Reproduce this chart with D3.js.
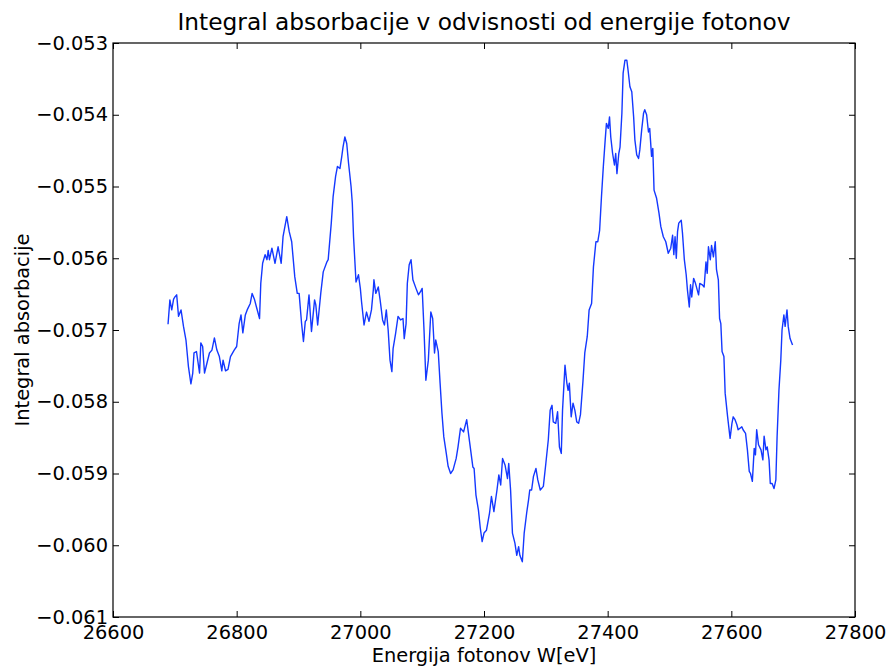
<!DOCTYPE html>
<html>
<head>
<meta charset="utf-8">
<script src="https://cdn.jsdelivr.net/npm/d3@7"></script>
<style>
  body { margin: 0; background: #fff; }
  text { font-family: "DejaVu Sans", sans-serif; fill: #000; }
</style>
</head>
<body>
<div class="chart"></div>
<script>
// --- Data ---
const energy = [
  26689, 26692, 26695, 26698, 26700, 26703, 26706, 26710, 26714, 26718,
  26722, 26726, 26729, 26731, 26735, 26740, 26742, 26745, 26748, 26752,
  26756, 26760, 26764, 26768, 26772, 26776, 26778, 26782, 26786, 26790,
  26796, 26800, 26804, 26807, 26810, 26814, 26817, 26822, 26825, 26829,
  26832, 26837, 26839, 26842, 26846, 26849, 26851, 26853, 26857, 26862,
  26867, 26872, 26875, 26881, 26885, 26889, 26894, 26898, 26901, 26905,
  26908, 26911, 26913, 26917, 26921, 26926, 26928, 26931, 26936, 26940,
  26946, 26948, 26953, 26956, 26960, 26963, 26967, 26970, 26972, 26975,
  26978, 26981, 26985, 26987, 26989, 26993, 26997, 27000, 27002, 27006,
  27010, 27014, 27018, 27021, 27022, 27025, 27029, 27032, 27036, 27039,
  27042, 27045, 27048, 27051, 27053, 27057, 27061, 27065, 27069, 27071,
  27074, 27076, 27079, 27082, 27085, 27090, 27094, 27097, 27100, 27103,
  27106, 27110, 27114, 27117, 27120, 27122, 27126, 27129, 27132, 27135,
  27139, 27142, 27146, 27150, 27155, 27158, 27162, 27167, 27172, 27177,
  27182, 27184, 27187, 27191, 27194, 27197, 27200, 27204, 27209, 27212,
  27216, 27221, 27224, 27227, 27230, 27234, 27238, 27240, 27243, 27246,
  27250, 27253, 27256, 27258, 27262, 27265, 27269, 27272, 27274, 27277,
  27280, 27284, 27287, 27291, 27296, 27300, 27304, 27307, 27310, 27312,
  27316, 27319, 27322, 27325, 27327, 27331, 27334, 27336, 27338, 27341,
  27344, 27347, 27350, 27353, 27356, 27360, 27363, 27367, 27370, 27374,
  27377, 27381, 27384, 27387, 27390, 27393, 27396, 27398, 27401, 27403,
  27405, 27408, 27411, 27413, 27415, 27418, 27420, 27423, 27425, 27428,
  27431, 27433, 27436, 27439, 27442, 27444, 27447, 27450, 27452, 27455,
  27458, 27460, 27463, 27466, 27468, 27471, 27473, 27475, 27479, 27483,
  27486, 27490, 27494, 27498, 27502, 27505, 27507, 27509, 27511, 27513,
  27515, 27519, 27521, 27524, 27527, 27529, 27532, 27534, 27536, 27539,
  27542, 27547, 27549, 27553, 27556, 27559, 27561, 27563, 27566, 27568,
  27571, 27574, 27576, 27579, 27581, 27583, 27585, 27588, 27590, 27594,
  27598, 27601, 27603, 27606, 27609, 27611, 27614, 27617, 27619, 27623,
  27626, 27629, 27631, 27634, 27637, 27639, 27641, 27644, 27648, 27651,
  27653, 27656, 27658, 27661, 27663, 27666, 27669, 27672, 27674, 27677,
  27680, 27682, 27685, 27687, 27690, 27692, 27695, 27699
];
const absorb = [
  -0.05692, -0.05658, -0.05672, -0.05657, -0.05654, -0.05651, -0.05681, -0.05672, -0.05695, -0.05714,
  -0.05751, -0.05775, -0.05760, -0.05732, -0.05730, -0.05760, -0.05718, -0.05723, -0.05760, -0.05746,
  -0.05732, -0.05728, -0.05711, -0.05728, -0.05737, -0.05757, -0.05742, -0.05757, -0.05755, -0.05737,
  -0.05728, -0.05723, -0.05691, -0.05679, -0.05704, -0.05679, -0.05672, -0.05663, -0.05649, -0.05658,
  -0.05668, -0.05684, -0.05635, -0.05607, -0.05595, -0.05602, -0.05589, -0.05602, -0.05586, -0.05607,
  -0.05584, -0.05607, -0.05570, -0.05542, -0.05563, -0.05577, -0.05626, -0.05649, -0.05649, -0.05691,
  -0.05716, -0.05688, -0.05686, -0.05651, -0.05702, -0.05658, -0.05665, -0.05693, -0.05649, -0.05619,
  -0.05605, -0.05602, -0.05551, -0.05514, -0.05486, -0.05472, -0.05475, -0.05458, -0.05445, -0.05431,
  -0.05440, -0.05468, -0.05500, -0.05523, -0.05570, -0.05633, -0.05623, -0.05642, -0.05661, -0.05693,
  -0.05675, -0.05688, -0.05672, -0.05644, -0.05630, -0.05649, -0.05640, -0.05658, -0.05686, -0.05693,
  -0.05672, -0.05700, -0.05742, -0.05758, -0.05726, -0.05705, -0.05681, -0.05686, -0.05684, -0.05712,
  -0.05691, -0.05635, -0.05609, -0.05602, -0.05630, -0.05642, -0.05651, -0.05647, -0.05642, -0.05700,
  -0.05770, -0.05742, -0.05675, -0.05684, -0.05732, -0.05714, -0.05730, -0.05774, -0.05816, -0.05849,
  -0.05872, -0.05890, -0.05900, -0.05895, -0.05879, -0.05863, -0.05837, -0.05842, -0.05825, -0.05858,
  -0.05891, -0.05893, -0.05930, -0.05951, -0.05976, -0.05995, -0.05983, -0.05979, -0.05955, -0.05932,
  -0.05953, -0.05923, -0.05902, -0.05916, -0.05879, -0.05888, -0.05907, -0.05886, -0.05923, -0.05983,
  -0.05997, -0.06014, -0.06002, -0.06014, -0.06023, -0.05983, -0.05955, -0.05937, -0.05923, -0.05923,
  -0.05904, -0.05893, -0.05909, -0.05923, -0.05918, -0.05886, -0.05853, -0.05812, -0.05805, -0.05828,
  -0.05830, -0.05814, -0.05863, -0.05872, -0.05812, -0.05749, -0.05774, -0.05784, -0.05774, -0.05821,
  -0.05802, -0.05812, -0.05828, -0.05830, -0.05818, -0.05772, -0.05732, -0.05709, -0.05672, -0.05663,
  -0.05612, -0.05577, -0.05577, -0.05561, -0.05514, -0.05472, -0.05435, -0.05412, -0.05419, -0.05403,
  -0.05431, -0.05454, -0.05470, -0.05454, -0.05482, -0.05454, -0.05445, -0.05398, -0.05342, -0.05324,
  -0.05324, -0.05338, -0.05361, -0.05368, -0.05403, -0.05435, -0.05456, -0.05461, -0.05449, -0.05421,
  -0.05398, -0.05393, -0.05400, -0.05424, -0.05419, -0.05458, -0.05447, -0.05505, -0.05516, -0.05537,
  -0.05556, -0.05570, -0.05577, -0.05593, -0.05586, -0.05568, -0.05595, -0.05570, -0.05600, -0.05563,
  -0.05551, -0.05547, -0.05565, -0.05602, -0.05623, -0.05644, -0.05668, -0.05637, -0.05654, -0.05628,
  -0.05635, -0.05651, -0.05635, -0.05637, -0.05640, -0.05605, -0.05621, -0.05584, -0.05602, -0.05582,
  -0.05598, -0.05577, -0.05616, -0.05630, -0.05684, -0.05691, -0.05730, -0.05737, -0.05788, -0.05821,
  -0.05851, -0.05830, -0.05821, -0.05825, -0.05832, -0.05839, -0.05837, -0.05835, -0.05839, -0.05844,
  -0.05867, -0.05897, -0.05900, -0.05911, -0.05865, -0.05874, -0.05839, -0.05860, -0.05867, -0.05881,
  -0.05848, -0.05867, -0.05863, -0.05881, -0.05914, -0.05914, -0.05921, -0.05909, -0.05849, -0.05784,
  -0.05742, -0.05700, -0.05679, -0.05695, -0.05672, -0.05695, -0.05712, -0.05721
];
const xTicks = [26600, 26800, 27000, 27200, 27400, 27600, 27800];
const yTicks = [-0.061, -0.060, -0.059, -0.058, -0.057, -0.056, -0.055, -0.054, -0.053];

const titleText = "Integral absorbacije v odvisnosti od energije fotonov";
const xLabel = "Energija fotonov W[eV]";
const yLabel = "Integral absorbacije";

// --- Layout ---
const width = 894;
const height = 671;
const margin = { top: 43, right: 39, bottom: 54, left: 113 };
const fontSize = 19.4;

const svg = d3.select(".chart")
  .append("svg")
  .attr("width", width)
  .attr("height", height);

const x = d3.scaleLinear().domain([26600, 27800]).range([margin.left, width - margin.right]);
const y = d3.scaleLinear().domain([-0.061, -0.053]).range([height - margin.bottom, margin.top]);

const fmtY = d => d3.format(".3f")(d).replace("-", "\u2212");
const tickLen = 6;

// bottom + top ticks (inside)
svg.append("g")
  .attr("transform", `translate(0,${height - margin.bottom})`)
  .call(d3.axisBottom(x).tickValues(xTicks).tickFormat(d => d).tickSizeInner(-tickLen).tickSizeOuter(0).tickPadding(8))
  .call(g => g.select(".domain").remove())
  .call(g => g.selectAll("text").attr("font-size", fontSize).attr("font-family", "DejaVu Sans"));

svg.append("g")
  .attr("transform", `translate(0,${margin.top})`)
  .call(d3.axisTop(x).tickValues(xTicks).tickFormat("").tickSizeInner(-tickLen).tickSizeOuter(0))
  .call(g => g.select(".domain").remove());

// left + right ticks (inside)
svg.append("g")
  .attr("transform", `translate(${margin.left},0)`)
  .call(d3.axisLeft(y).tickValues(yTicks).tickFormat(fmtY).tickSizeInner(-tickLen).tickSizeOuter(0).tickPadding(5))
  .call(g => g.select(".domain").remove())
  .call(g => g.selectAll("text").attr("font-size", fontSize).attr("font-family", "DejaVu Sans"));

svg.append("g")
  .attr("transform", `translate(${width - margin.right},0)`)
  .call(d3.axisRight(y).tickValues(yTicks).tickFormat("").tickSizeInner(-tickLen).tickSizeOuter(0))
  .call(g => g.select(".domain").remove());

svg.selectAll(".tick line").attr("stroke", "#000");

// --- Line ---
const points = energy.map((e, i) => ({ e, v: absorb[i] }));
svg.append("path")
  .datum(points)
  .attr("fill", "none")
  .attr("stroke", "#1438ff")
  .attr("stroke-width", 1.4)
  .attr("stroke-linejoin", "round")
  .attr("d", d3.line().x(d => x(d.e)).y(d => y(d.v)));

// frame
svg.append("rect")
  .attr("x", margin.left)
  .attr("y", margin.top)
  .attr("width", width - margin.left - margin.right)
  .attr("height", height - margin.top - margin.bottom)
  .attr("fill", "none")
  .attr("stroke", "#000")
  .attr("stroke-width", 1.2);

// --- Texts ---
svg.append("text")
  .attr("x", (margin.left + width - margin.right) / 2)
  .attr("y", 29.5)
  .attr("text-anchor", "middle")
  .attr("font-size", 23.3)
  .text(titleText);

svg.append("text")
  .attr("x", (margin.left + width - margin.right) / 2)
  .attr("y", 662)
  .attr("text-anchor", "middle")
  .attr("font-size", fontSize)
  .text(xLabel);

svg.append("text")
  .attr("transform", `translate(29,${(margin.top + height - margin.bottom) / 2}) rotate(-90)`)
  .attr("text-anchor", "middle")
  .attr("font-size", fontSize)
  .text(yLabel);
</script>
</body>
</html>
